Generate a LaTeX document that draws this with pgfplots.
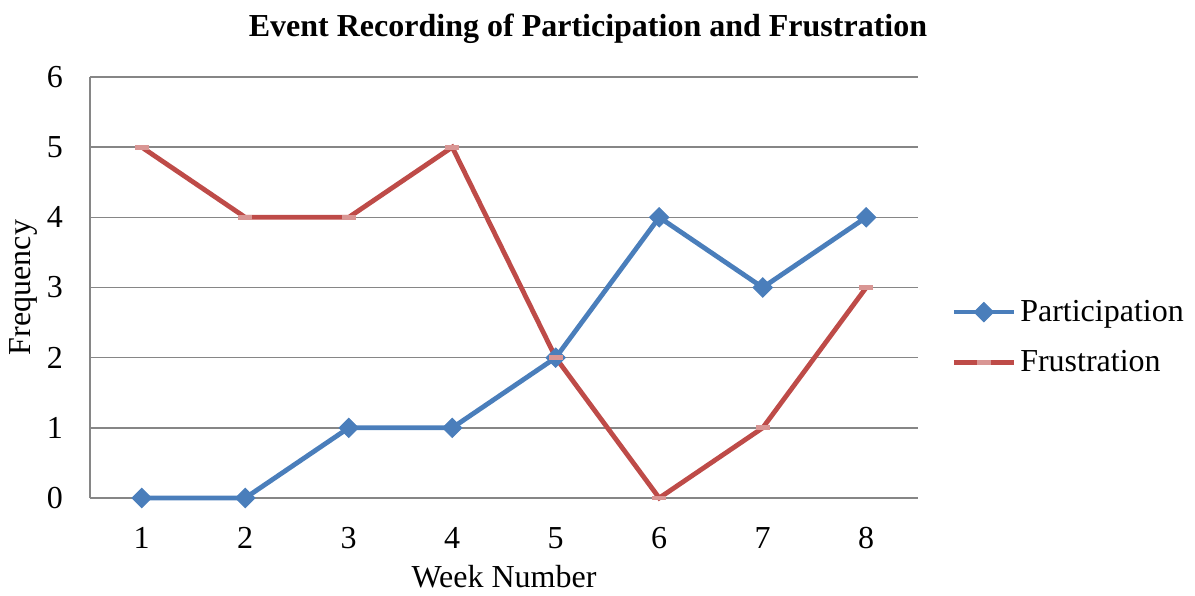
\documentclass[border=0pt]{standalone}
\usepackage{pgfplots}
\pgfplotsset{compat=1.18}
\usepackage{fontspec}
\setmainfont{Liberation Serif}
\definecolor{partblue}{HTML}{4A7EBB}
\definecolor{frured}{HTML}{BE4B48}
\definecolor{frupink}{HTML}{D99694}
\definecolor{gridgray}{HTML}{868686}
\begin{document}
\begin{tikzpicture}
\begin{axis}[
  at={(0,0)}, anchor=south west,
  scale only axis,
  width=414pt, height=210.5pt,
  xmin=0.5, xmax=8.5, ymin=0, ymax=6,
  xtick={1,...,8}, ytick={0,...,6},
  major tick length=0pt,
  axis x line*=bottom, axis y line*=left,
  axis line style={gridgray, line width=0.8pt},
  ymajorgrids, grid style={gridgray, line width=0.8pt},
  tick label style={font=\fontsize{16}{19}\selectfont},
  /pgf/number format/assume math mode=true,
  xlabel={Week Number}, ylabel={Frequency},
  label style={font=\fontsize{16}{19}\selectfont},
  xticklabel style={yshift=-11pt},
  yticklabel style={xshift=-10pt},
  xlabel style={yshift=-1.5pt},
  ylabel style={yshift=-2pt},
  title={\textbf{Event Recording of Participation and Frustration}},
  title style={font=\fontsize{16}{19}\selectfont, yshift=7pt, xshift=42pt},
  legend style={draw=none, fill=none, at={(1.04,0.382)}, anchor=west,
    font=\fontsize{16}{19}\selectfont, row sep=9pt, inner sep=0pt},
  legend cell align=left,
  legend image code/.code={
    \draw[#1, mark repeat=2, mark phase=2] plot coordinates {(0pt,0pt) (15pt,0pt) (30pt,0pt)};
  },
  clip=false,
]
\addplot[partblue, line width=2.4pt, mark=square*, mark size=3.4pt,
  mark options={rotate=45, solid, line width=0.5pt, fill=partblue}]
  coordinates {(1,0) (2,0) (3,1) (4,1) (5,2) (6,4) (7,3) (8,4)};
\addlegendentry{Participation}
\addplot[frured, line width=2.4pt, mark=-, mark size=3.5pt,
  mark options={frupink, line width=2.4pt}]
  coordinates {(1,5) (2,4) (3,4) (4,5) (5,2) (6,0) (7,1) (8,3)};
\addlegendentry{Frustration}
\end{axis}
\pgfresetboundingbox
\path (-45pt,-48.5pt) rectangle (552.5pt,249pt);
\end{tikzpicture}
\end{document}
